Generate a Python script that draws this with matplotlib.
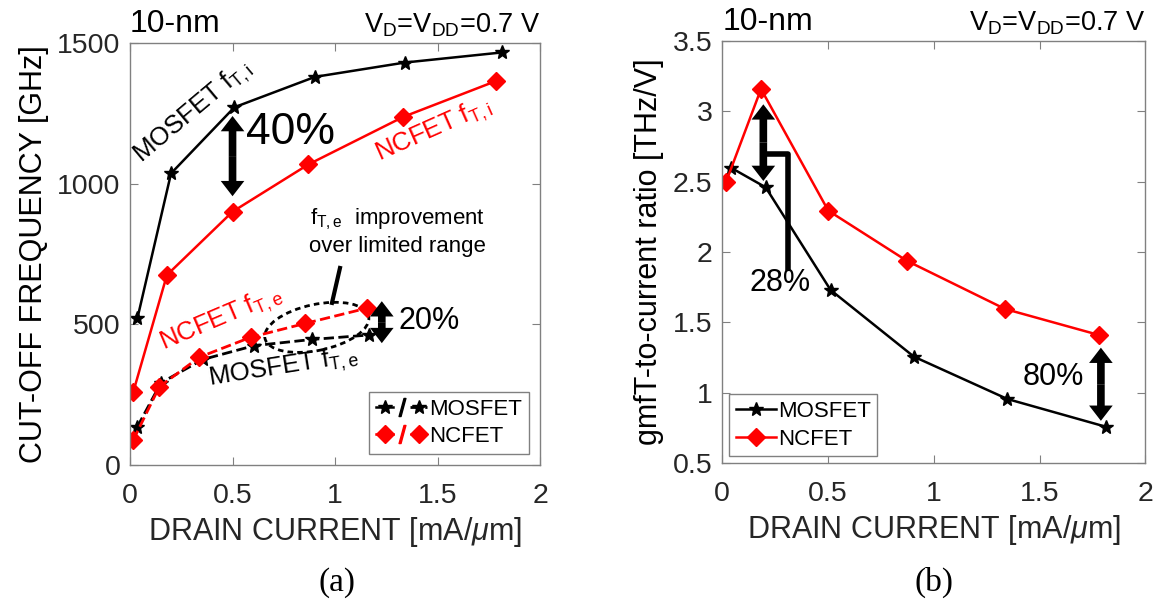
import matplotlib
matplotlib.use('Agg')
import matplotlib.pyplot as plt
import matplotlib.transforms as mtransforms
from matplotlib.patches import Ellipse
from matplotlib.lines import Line2D
from matplotlib.legend_handler import HandlerTuple

plt.rcParams['font.family'] = ['Liberation Sans', 'DejaVu Sans']
plt.rcParams['mathtext.fontset'] = 'custom'
plt.rcParams['mathtext.rm'] = 'Liberation Sans'
plt.rcParams['mathtext.it'] = 'Liberation Sans:italic'

# (a) cut-off frequency vs drain current
mos_i_x = [0.036, 0.20, 0.509, 0.902, 1.341, 1.816]
mos_i_y = [521, 1036, 1271, 1379, 1430, 1466]
nc_i_x = [0.016, 0.18, 0.50, 0.87, 1.333, 1.784]
nc_i_y = [260, 675, 900, 1068, 1237, 1364]
mos_e_x = [0.036, 0.151, 0.355, 0.605, 0.886, 1.167]
mos_e_y = [136, 292, 375, 424, 446, 462]
nc_e_x = [0.016, 0.143, 0.338, 0.589, 0.854, 1.154]
nc_e_y = [89, 278, 383, 454, 503, 557]

# (b) gmfT-to-current ratio vs drain current
mos_r_x = [0.04, 0.205, 0.512, 0.906, 1.348, 1.813]
mos_r_y = [2.60, 2.46, 1.73, 1.256, 0.955, 0.758]
nc_r_x = [0.017, 0.183, 0.501, 0.872, 1.337, 1.781]
nc_r_y = [2.495, 3.159, 2.294, 1.938, 1.595, 1.41]

x_ticks = [0, 0.5, 1, 1.5, 2]
x_ticklabels = ['0', '0.5', '1', '1.5', '2']
fa_ticks = [0, 500, 1000, 1500]
r_ticks = [0.5, 1, 1.5, 2, 2.5, 3, 3.5]
r_ticklabels = ['0.5', '1', '1.5', '2', '2.5', '3', '3.5']

RED = '#ff0000'
tick_col = '#262626'


def double_arrow(ax, x, y0, y1):
    # two filled arrows drawn outward from the middle
    ym = (y0 + y1) / 2.0
    for yt in (y0, y1):
        ax.annotate('', xy=(x, yt), xytext=(x, ym),
                    arrowprops=dict(arrowstyle='simple,head_length=11,head_width=17,tail_width=5.5',
                                    mutation_scale=1, fc='k', ec='none',
                                    shrinkA=0, shrinkB=0))


fig = plt.figure(figsize=(11.65, 6.04), dpi=100)
ax1 = fig.add_axes([0.1116, 0.2301, 0.352, 0.699])
ax2 = fig.add_axes([0.620, 0.2334, 0.3631, 0.6987])

for ax in (ax1, ax2):
    for s in ax.spines.values():
        s.set_color('#808080')
        s.set_linewidth(1.0)
    ax.tick_params(direction='in', top=True, right=True, length=6,
                   color='#808080', labelsize=20.5, labelcolor=tick_col)
    ax.tick_params(axis='x', pad=13)
    ax.tick_params(axis='y', pad=7)
    ax.set_xlim(0, 2)
    ax.set_xticks(x_ticks)
    ax.set_xticklabels(x_ticklabels)
    ax.set_xlabel(r'DRAIN CURRENT [mA/$\mu$m]', fontsize=22, color=tick_col, labelpad=4)
    ax.text(0.0, 1.01, '10-nm', transform=ax.transAxes, fontsize=23,
            ha='left', va='bottom')
    ax.text(1.0, 1.01, r'V$_{\rm D}$=V$_{\rm DD}$=0.7 V', transform=ax.transAxes,
            fontsize=19.5, ha='right', va='bottom')

# ---- panel (a)
h1, = ax1.plot(mos_i_x, mos_i_y, 'k-', marker='*', ms=10, lw=1.8)
h2, = ax1.plot(mos_e_x, mos_e_y, 'k--', marker='*', ms=10, lw=2)
h3, = ax1.plot(nc_i_x, nc_i_y, '-', color=RED, marker='D', ms=9, lw=1.8)
h4, = ax1.plot(nc_e_x, nc_e_y, '--', color=RED, marker='D', ms=9, lw=2)
ax1.set_ylim(0, 1500)
ax1.set_yticks(fa_ticks)
ax1.set_ylabel('CUT-OFF FREQUENCY [GHz]', fontsize=22, color='k', labelpad=6)

ax1.text(0.307, 1254, r'MOSFET f$_{\rm T,i}$', fontsize=18.5, rotation=40,
         rotation_mode='anchor', ha='center', va='center')
ax1.text(1.483, 1190, r'NCFET f$_{\rm T,i}$', fontsize=18.5, rotation=24,
         rotation_mode='anchor', ha='center', va='center', color=RED)
ax1.text(0.444, 519, r'NCFET f$_{\rm T,e}$', fontsize=18.5, rotation=23,
         rotation_mode='anchor', ha='center', va='center', color=RED)
ax1.text(0.751, 345, r'MOSFET f$_{\rm T,e}$', fontsize=18.5, rotation=9,
         rotation_mode='anchor', ha='center', va='center')
ax1.text(1.302, 829, 'f$_{\\rm T,e}$  improvement\nover limited range', fontsize=16,
         ha='center', va='center', linespacing=1.25)
ax1.text(0.565, 1180, '40%', fontsize=32, ha='left', va='center')
ax1.text(1.31, 513, '20%', fontsize=22, ha='left', va='center')
double_arrow(ax1, 0.5, 955, 1240)
double_arrow(ax1, 1.228, 433, 582)
ax1.plot([1.024, 0.985], [700, 576], 'k-', lw=3)

# dotted ellipse drawn in pixel units around the f_T,e region
ell_tr = mtransforms.IdentityTransform() + mtransforms.ScaledTranslation(0.911, 489, ax1.transData)
ax1.add_patch(Ellipse((0, 0), 106, 46, angle=12, fill=False, ls=(0, (2, 1.5)),
                      lw=2, ec='k', transform=ell_tr))

slash_k = Line2D([], [], ls='none', marker='$/$', ms=13, color='k')
slash_r = Line2D([], [], ls='none', marker='$/$', ms=13, color=RED)
leg1 = ax1.legend([(h1, slash_k, h2), (h3, slash_r, h4)], ['MOSFET', 'NCFET'],
                  handler_map={tuple: HandlerTuple(ndivide=None, pad=0.0)},
                  loc='lower right', fontsize=16, fancybox=False, framealpha=1,
                  edgecolor='#808080', handlelength=2.3, handletextpad=0.1,
                  borderpad=0.3, labelspacing=0.3, borderaxespad=0.5, numpoints=1)
leg1.get_frame().set_linewidth(1.0)

# ---- panel (b)
ax2.plot(mos_r_x, mos_r_y, 'k-', marker='*', ms=10, lw=1.8, label='MOSFET')
ax2.plot(nc_r_x, nc_r_y, '-', color=RED, marker='D', ms=9, lw=1.8, label='NCFET')
ax2.set_ylim(0.5, 3.5)
ax2.set_yticks(r_ticks)
ax2.set_yticklabels(r_ticklabels)
ax2.set_ylabel('gmfT-to-current ratio [THz/V]', fontsize=22, color='k', labelpad=6)

double_arrow(ax2, 0.194, 2.505, 3.05)
ax2.plot([0.218, 0.312, 0.312], [2.697, 2.697, 1.884], 'k-', lw=4)
ax2.text(0.272, 1.78, '28%', fontsize=22, ha='center', va='center')
double_arrow(ax2, 1.79, 0.80, 1.32)
ax2.text(1.564, 1.114, '80%', fontsize=22, ha='center', va='center')

leg2 = ax2.legend(loc='lower left', fontsize=16, fancybox=False, framealpha=1,
                  edgecolor='#808080', handlelength=1.8, handletextpad=0.1,
                  borderpad=0.3, labelspacing=0.3, borderaxespad=0.3)
leg2.get_frame().set_linewidth(1.0)

fig.text(0.289, 0.022, '(a)', fontsize=24, family=['Liberation Serif'], ha='center')
fig.text(0.802, 0.022, '(b)', fontsize=24, family=['Liberation Serif'], ha='center')

fig.savefig('out.png', dpi=100)
